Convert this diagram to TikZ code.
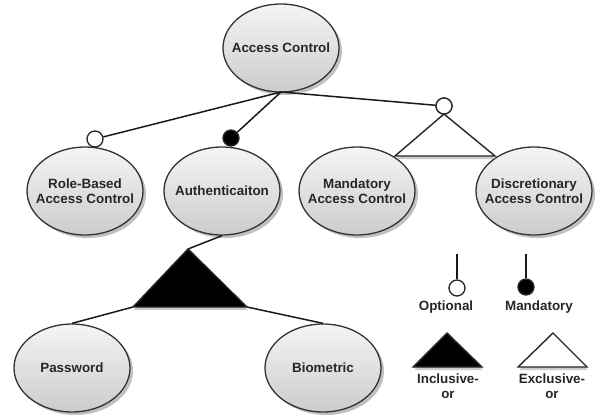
\documentclass[tikz,border=0pt]{standalone}
\usepackage{fontspec}
\setmainfont{Liberation Sans}
\usetikzlibrary{shapes.geometric,shadows}
\begin{document}
\begin{tikzpicture}[x=1pt,y=-1pt,
  lbl/.style={font=\bfseries\fontsize{13.4}{15.5}\selectfont, text=black!85, align=center},
  ell/.style={ellipse, draw=black!80, line width=1.3pt, minimum width=116pt, minimum height=88pt, inner sep=0pt,
    top color=black!4, bottom color=black!20,
    drop shadow={shadow xshift=3pt, shadow yshift=-3pt, fill=black!45, opacity=0.55},
    label={[lbl]center:#1}},
  opt/.style={circle, draw=black!85, line width=1.3pt, fill=white, minimum size=16pt, inner sep=0pt},
  man/.style={opt, fill=black},
  conn/.style={line width=1.5pt, draw=black!90},
  tri/.style={line width=1.4pt, draw=black!85, line join=miter,
    drop shadow={shadow xshift=1pt, shadow yshift=-3pt, fill=black!40, opacity=0.5}},
  legtxt/.style={lbl, inner sep=0pt}
]
\useasboundingbox (0,0) rectangle (600,416);

% ellipses
\node[ell={Access Control}] (ac)  at (281,48)  {};
\node[ell={Role-Based\\Access Control}] (rb)  at (85,191)  {};
\node[ell={Authenticaiton}] (au)  at (222,191) {};
\node[ell={Mandatory\\Access Control}] (mac) at (357,191) {};
\node[ell={Discretionary\\Access Control}] (dac) at (534,191) {};
\node[ell={Password}] (pw)  at (72,368)  {};
\node[ell={Biometric}] (bio) at (323,368) {};

% variation markers
\node[opt] (o1) at (95,139)  {};
\node[man] (m1) at (231,138) {};
\node[opt] (o3) at (444,106) {};

\coordinate (acb) at (281,92);
\draw[conn] (acb) -- (o1);
\draw[conn] (acb) -- (m1);
\draw[conn] (acb) -- (o3);

% exclusive-or triangle
\coordinate (xa) at (444,114);
\coordinate (xl) at (395,156);
\coordinate (xr) at (495,156);
\filldraw[tri, fill=white] (xa) -- (xl) -- (xr) -- cycle;
\node[opt] at (o3) {};

% inclusive-or triangle
\coordinate (ia) at (188,249);
\coordinate (il) at (133,307);
\coordinate (ir) at (247,307);
\draw[conn] (au.south) -- (ia);
\draw[conn] (il) -- (pw.north);
\draw[conn] (ir) -- (bio.north);
\filldraw[tri, fill=black] (ia) -- (il) -- (ir) -- cycle;

% legend
\node[opt] (lopt) at (457,288) {};
\coordinate (loptt) at (457,254);
\draw[conn] (loptt) -- (lopt);
\node[legtxt] (toptl) at (446,307) {Optional};

\node[man] (lman) at (526,287) {};
\coordinate (lmant) at (526,254);
\draw[conn] (lmant) -- (lman);
\node[legtxt] (tmanl) at (539,307) {Mandatory};

\coordinate (lia) at (447,333);
\coordinate (lil) at (413,367);
\coordinate (lir) at (482,367);
\filldraw[tri, fill=black] (lia) -- (lil) -- (lir) -- cycle;
\node[legtxt] (tinc) at (448,386) {Inclusive-\\or};

\coordinate (lea) at (553,333);
\coordinate (lel) at (518,367);
\coordinate (ler) at (587,367);
\filldraw[tri, fill=white] (lea) -- (lel) -- (ler) -- cycle;
\node[legtxt] (texc) at (552,386) {Exclusive-\\or};
\end{tikzpicture}
\end{document}
